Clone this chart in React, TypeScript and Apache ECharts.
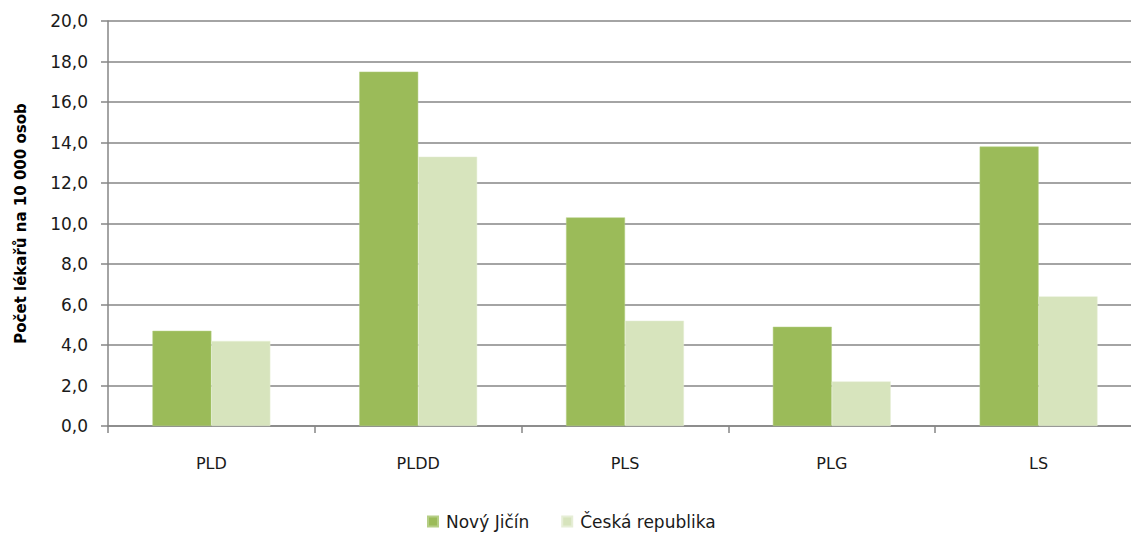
import React, { useEffect, useRef } from "react";
import * as echarts from "echarts";

const categories = ["PLD", "PLDD", "PLS", "PLG", "LS"];
const novyJicin = [4.7, 17.5, 10.3, 4.9, 13.8];
const ceskaRepublika = [4.2, 13.3, 5.2, 2.2, 6.4];
const seriesNames = ["Nový Jičín", "Česká republika"];
const yAxisTitle = "Počet lékařů na 10 000 osob";

const FONT = "'DejaVu Sans', 'Noto Sans', sans-serif";

export default function App() {
  const ref = useRef<HTMLDivElement>(null);
  useEffect(() => {
    if (!ref.current) return;
    const chart = echarts.init(ref.current, undefined, { renderer: "svg" });
    chart.setOption({
      animation: false,
      backgroundColor: "#ffffff",
      textStyle: { fontFamily: FONT },
      grid: { left: 108, top: 21, height: 405, right: 8, containLabel: false },
      legend: {
        data: seriesNames,
        left: 422,
        top: 508,
        icon: "rect",
        itemWidth: 10,
        itemHeight: 10,
        itemGap: 32,
        textStyle: { fontFamily: FONT, fontSize: 17, color: "#1a1a1a", padding: [0, 0, 0, 3] },
      },
      xAxis: {
        type: "category",
        data: categories,
        axisLine: { lineStyle: { color: "#868686", width: 1.5 } },
        axisTick: { show: true, alignWithLabel: false, length: 7, lineStyle: { color: "#868686", width: 1.5 } },
        axisLabel: { margin: 29, fontSize: 16, color: "#1a1a1a", fontFamily: FONT },
      },
      yAxis: {
        type: "value",
        min: 0,
        max: 20,
        interval: 2,
        name: yAxisTitle,
        nameLocation: "middle",
        nameGap: 80,
        nameRotate: 90,
        nameTextStyle: { fontFamily: FONT, fontWeight: "bold", fontSize: 15, color: "#000" },
        axisLine: { show: true, lineStyle: { color: "#868686", width: 1.5 } },
        axisTick: { show: true, length: 7, lineStyle: { color: "#868686", width: 1.5 } },
        splitLine: { show: true, lineStyle: { color: "#868686", width: 1.5 } },
        axisLabel: {
          margin: 20,
          fontSize: 17,
          color: "#1a1a1a",
          fontFamily: FONT,
          formatter: (v: number) => v.toFixed(1).replace(".", ","),
        },
      },
      series: [
        {
          name: seriesNames[0],
          type: "bar",
          data: novyJicin,
          barGap: "0%",
          barCategoryGap: "43%",
          itemStyle: { color: "#9BBB59", borderColor: "#B5CE85", borderWidth: 0.5 },
        },
        {
          name: seriesNames[1],
          type: "bar",
          data: ceskaRepublika,
          barGap: "0%",
          barCategoryGap: "43%",
          itemStyle: { color: "#D7E4BD", borderColor: "#E6EED6", borderWidth: 0.5 },
        },
      ],
    });
    return () => chart.dispose();
  }, []);
  return (
    <div
      style={{ position: "fixed", left: 0, top: 0, width: 1131, height: 533, overflow: "hidden", background: "#fff" }}
    >
      <div ref={ref} style={{ width: 1150, height: 533 }} />
    </div>
  );
}
